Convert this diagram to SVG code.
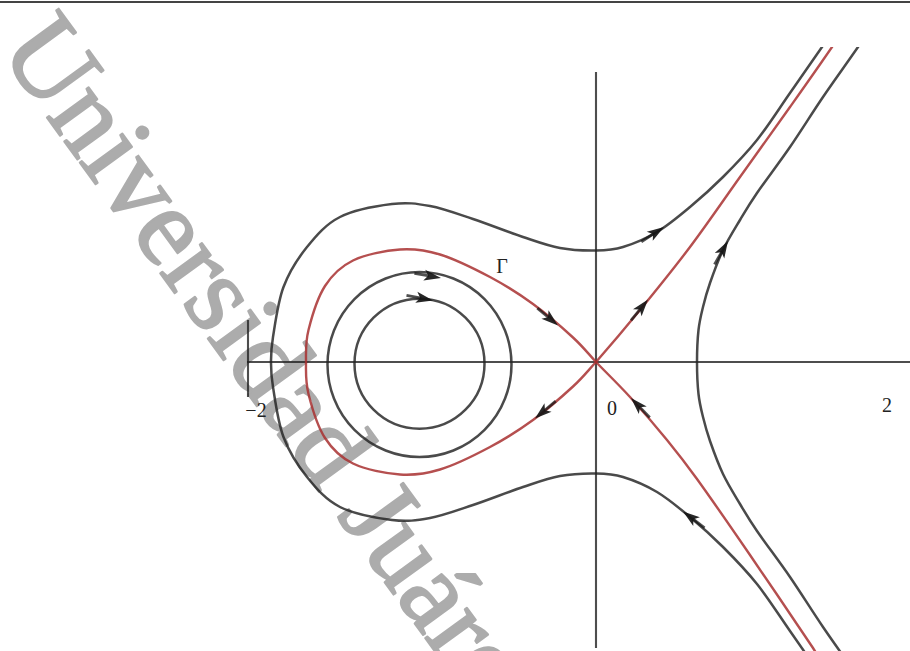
<svg xmlns="http://www.w3.org/2000/svg" width="910" height="651" viewBox="0 0 910 651">
<style>
.wm{font-family:"Liberation Serif","Times New Roman",serif;font-size:112px;fill:#acacac;stroke:#acacac;stroke-width:2.2;stroke-linejoin:round}
.ax{stroke:#222;stroke-opacity:0.8;stroke-width:2.1;fill:none}
.g{stroke:#222;stroke-opacity:0.82;stroke-width:2.5;fill:none}
.r{stroke:#a83030;stroke-opacity:0.85;stroke-width:2.4;fill:none}
.lb{font-family:"Liberation Serif","Times New Roman",serif;font-size:20px;fill:#222}
.ah{fill:#151515;fill-opacity:0.92}
.at{stroke:#151515;stroke-opacity:0.75;stroke-width:2.8}
</style>
<defs>
<clipPath id="clip"><rect x="0" y="47" width="910" height="604"/></clipPath>
<g id="ah"><path class="at" d="M-27,0 L-12,0"/><path class="ah" d="M0,0 L-17,-5.5 L-13,0 L-17,5.5 Z"/></g>
</defs>
<rect width="910" height="651" fill="#fff"/>
<g id="watermark">
<text class="wm" transform="translate(-2,50) rotate(54)">Universidad Juárez</text>
</g>
<line id="topline" x1="0" y1="2" x2="910" y2="2" stroke="#444" stroke-width="2"/>
<g id="axes">
<line class="ax" x1="247" y1="362" x2="910" y2="362"/>
<line class="ax" x1="596" y1="72" x2="596" y2="648"/>
<line class="ax" x1="248" y1="320" x2="248" y2="397"/>
</g>
<g id="connectors" clip-path="url(#clip)">
<path id="outerTop" class="g" d="M271,362 C271,353.67 270.92,349.5 273,337 C275.08,324.5 277.83,302 283.5,287 C289.17,272 297.58,258.67 307,247 C316.42,235.33 325.83,224.17 340,217 C354.17,209.83 377,205.83 392,204 C407,202.17 416.5,203.5 430,206 C443.5,208.5 457.5,213.83 473,219 C488.5,224.17 508.5,232.17 523,237 C537.5,241.83 547.83,245.75 560,248 C572.17,250.25 585.5,250.67 596,250.5 C606.5,250.33 612.83,250.08 623,247 C633.17,243.92 645.83,238.67 657,232 C668.17,225.33 679,216.17 690,207 C701,197.83 711.83,188.17 723,177 C734.17,165.83 745.83,154 757,140 C768.17,126 779.17,108.5 790,93 C800.83,77.5 811.33,62.33 822,47 L838,24"/>
<use href="#outerTop" transform="matrix(1 0 0 -1 0 724)"/>
<path id="rightTop" class="g" d="M697,362 C697,351.33 697.5,339.17 698.5,330 C699.5,320.83 701.08,314.83 703,307 C704.92,299.17 706.67,292.5 710,283 C713.33,273.5 718,260.5 723,250 C728,239.5 734.33,229.5 740,220 C745.67,210.5 748.67,205.17 757,193 C765.33,180.83 779,163 790,147 C801,131 811.67,113.67 823,97 C834.33,80.33 846.5,63.67 858,47 L874,24"/>
<use href="#rightTop" transform="matrix(1 0 0 -1 0 724)"/>
<ellipse class="g" cx="419.5" cy="364.5" rx="92" ry="92.5"/>
<circle class="g" cx="419.5" cy="363.7" r="65"/>
<path id="loopTop" class="r" d="M596,362 C588.33,353.83 583.5,347.17 573,337.5 C562.5,327.83 546.83,314.08 533,304 C519.17,293.92 505.5,285.25 490,277 C474.5,268.75 455,259.08 440,254.5 C425,249.92 414.5,248.5 400,249.5 C385.5,250.5 365.5,254.42 353,260.5 C340.5,266.58 332.42,274.42 325,286 C317.58,297.58 311.67,317.33 308.5,330 C305.33,342.67 306,351.33 306,362"/>
<use href="#loopTop" transform="matrix(1 0 0 -1 0 724)"/>
<path id="unstable" class="r" d="M596,362 C607.17,349.25 624.33,329.17 640,310 C655.67,290.83 673.33,269.17 690,247 C706.67,224.83 723.33,200.33 740,177 C756.67,153.67 774.67,128.67 790,107 C805.33,85.33 818.33,67 832,47 L848,24"/>
<path id="stable" class="r" d="M596,362 C605.5,371.92 618.17,384 630,397 C641.83,410 655.83,426.33 667,440 C678.17,453.67 683.17,459.83 697,479 C710.83,498.17 730.67,526.83 750,555 C769.33,583.17 799.67,628 813,648 L830,675"/>
</g>
<g id="arrows">
<use href="#ah" transform="translate(441,278) rotate(10)"/>
<use href="#ah" transform="translate(433,300.5) rotate(11)"/>
<use href="#ah" transform="translate(558,325.5) rotate(40)"/>
<use href="#ah" transform="translate(535,418.5) rotate(140)"/>
<use href="#ah" transform="translate(648,299.5) rotate(-51)"/>
<use href="#ah" transform="translate(631,398) rotate(-134)"/>
<use href="#ah" transform="translate(664,227) rotate(-33)"/>
<use href="#ah" transform="translate(728,241) rotate(-60)"/>
<use href="#ah" transform="translate(683,511.5) rotate(-143)"/>
</g>
<g id="labels">
<text class="lb" x="502" y="273" text-anchor="middle" font-size="21">Γ</text>
<text class="lb" x="256" y="417" text-anchor="middle">−2</text>
<text class="lb" x="612" y="415" text-anchor="middle">0</text>
<text class="lb" x="887" y="412" text-anchor="middle">2</text>
</g>
</svg>
